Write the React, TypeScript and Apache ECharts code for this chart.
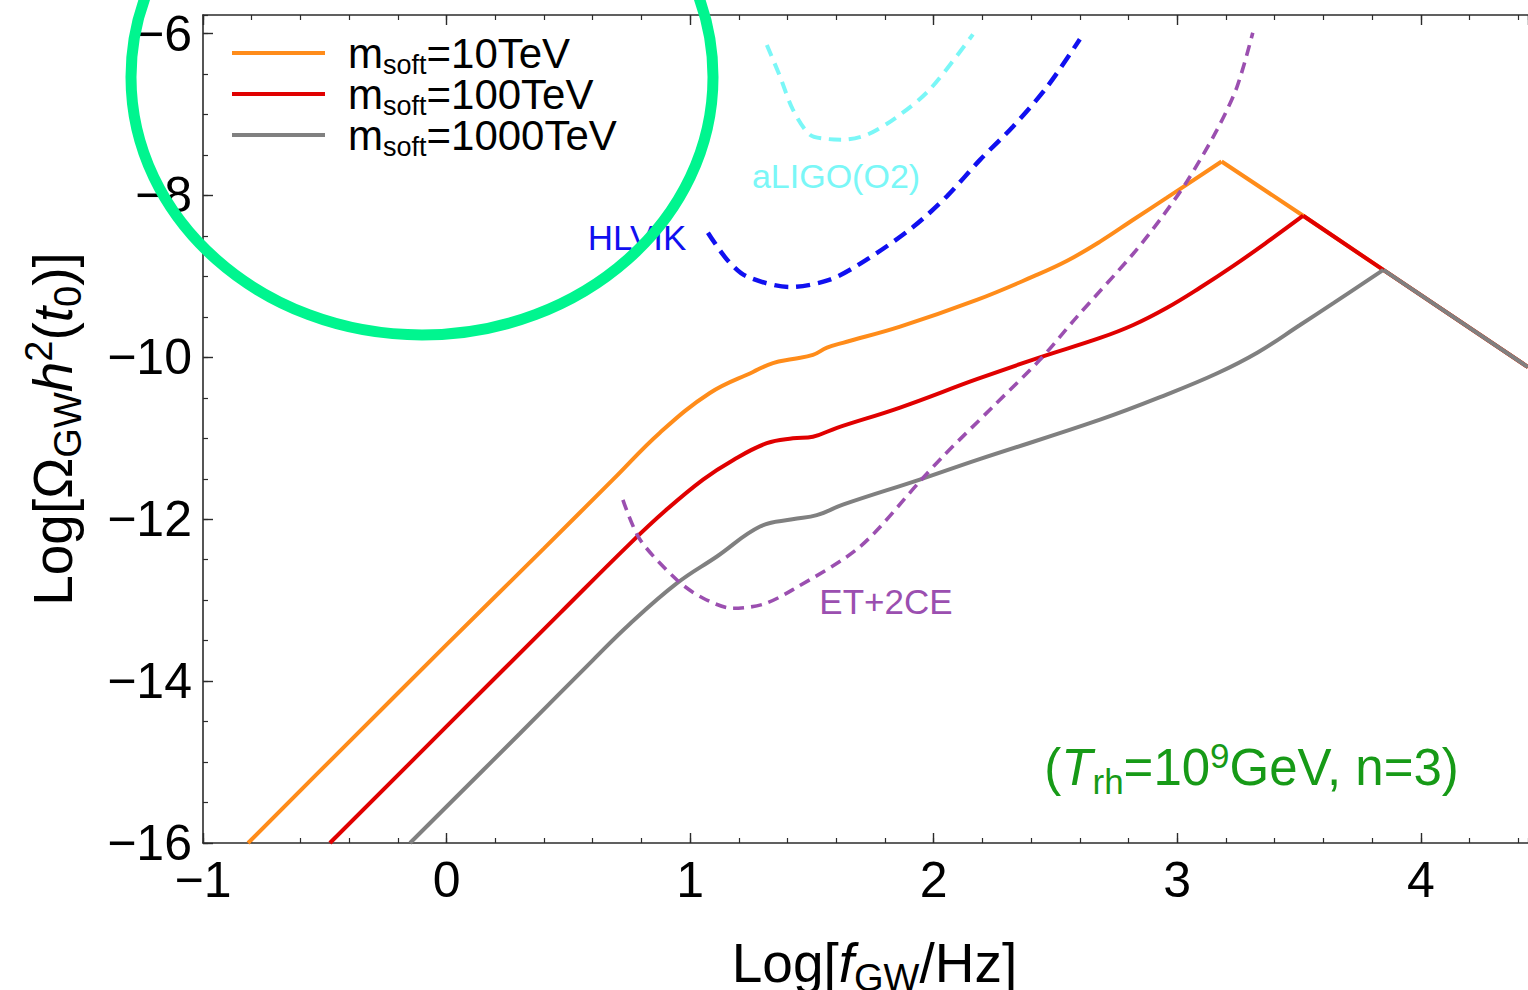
import React, { useEffect, useRef } from 'react';
import * as echarts from 'echarts';

const FONT = '"Liberation Sans", Arial, Helvetica, sans-serif';

// Axis ranges and tick labels
const X_MIN = -1;
const X_MAX = 4.44;
const Y_MIN = -16;
const Y_MAX = -5.77;
const X_TICKS = [-1, 0, 1, 2, 3, 4];
const Y_TICKS = [-16, -14, -12, -10, -8, -6];

// Legend / series names
const MSOFT = ['m_soft=10TeV', 'm_soft=100TeV', 'm_soft=1000TeV'];

// m_soft = 10 TeV (orange)
const orangeRise: [number, number][] = [
  [-0.815, -16], [-0.4, -14.75], [0, -13.55], [0.4, -12.36], [0.683, -11.51],
  [0.876, -10.93], [1.081, -10.44], [1.258, -10.18], [1.34, -10.07], [1.422, -10.02],
  [1.504, -9.97], [1.562, -9.88], [1.627, -9.82], [1.862, -9.62], [2.177, -9.29],
  [2.409, -9.0], [2.546, -8.81], [2.683, -8.57], [2.819, -8.3], [2.956, -8.03],
  [3.182, -7.58],
];
const orangeFall: [number, number][] = [
  [3.182, -7.58], [3.517, -8.25], [3.846, -8.92], [4.44, -10.12],
];

// m_soft = 100 TeV (red)
const redRise: [number, number][] = [
  [-0.479, -16], [0, -14.56], [0.466, -13.16], [0.75, -12.31], [0.9, -11.89],
  [1.053, -11.51], [1.176, -11.27], [1.315, -11.06], [1.422, -11.0], [1.504, -10.98],
  [1.603, -10.87], [1.862, -10.62], [2.177, -10.27], [2.436, -10.0], [2.683, -9.76],
  [2.819, -9.6], [2.956, -9.39], [3.093, -9.14], [3.23, -8.87], [3.367, -8.58],
  [3.517, -8.25],
];
const redFall: [number, number][] = [
  [3.517, -8.25], [3.846, -8.92], [4.44, -10.12],
];

// m_soft = 1000 TeV (gray)
const grayRise: [number, number][] = [
  [-0.15, -16], [0.3, -14.65], [0.601, -13.74], [0.75, -13.3], [0.946, -12.79],
  [1.11, -12.46], [1.287, -12.09], [1.42, -12.0], [1.52, -11.95], [1.627, -11.82],
  [1.943, -11.51], [2.176, -11.27], [2.683, -10.77], [2.956, -10.46], [3.162, -10.2],
  [3.33, -9.94], [3.504, -9.6], [3.641, -9.33], [3.846, -8.92],
];
const grayFall: [number, number][] = [
  [3.846, -8.92], [4.44, -10.12],
];

// Detector sensitivity curves
const aligo: [number, number][] = [
  [1.315, -6.14], [1.369, -6.53], [1.422, -6.94], [1.492, -7.25], [1.56, -7.3],
  [1.627, -7.31], [1.726, -7.25], [1.849, -7.03], [1.984, -6.69], [2.161, -6.01],
];
const hlvik: [number, number][] = [
  [1.073, -8.46], [1.151, -8.79], [1.233, -9.0], [1.41, -9.13], [1.574, -9.04],
  [1.726, -8.79], [1.915, -8.39], [2.054, -8.01], [2.19, -7.56], [2.325, -7.15],
  [2.465, -6.66], [2.6, -6.07],
];
const et2ce: [number, number][] = [
  [0.724, -11.76], [0.794, -12.25], [0.946, -12.75], [1.05, -12.97], [1.176, -13.1],
  [1.3, -13.05], [1.422, -12.87], [1.697, -12.34], [1.95, -11.51], [2.039, -11.22],
  [2.243, -10.61], [2.436, -10.03], [2.588, -9.5], [2.819, -8.72], [2.929, -8.3],
  [3.039, -7.83], [3.163, -7.19], [3.245, -6.66], [3.31, -5.99],
];

// Annotation anchors (data coordinates)
const LABEL_ALIGO: [number, number] = [1.599, -7.755];
const LABEL_HLVIK: [number, number] = [0.782, -8.52];
const LABEL_ET: [number, number] = [1.804, -13.02];
const LABEL_PARAMS: [number, number] = [3.305, -15.07];

const C_ORANGE = '#FF8C1A';
const C_RED = '#E00000';
const C_GRAY = '#808080';
const C_CYAN = '#7AF7F7';
const C_BLUE = '#1010F0';
const C_PURPLE = '#9B4FB0';
const C_GREEN = '#179A17';
const AXIS_C = '#2b2b2b';

const minus = (v: number) => String(v).replace('-', '\u2212');
const onlyTicks = (list: number[]) => (v: number) =>
  list.some((t) => Math.abs(t - v) < 1e-6) ? minus(v) : '';

function makeAxisPair(kind: 'x' | 'y', position: string, withLabels: boolean) {
  const isX = kind === 'x';
  const major: any = {
    type: 'value',
    min: isX ? X_MIN : Y_MIN,
    max: isX ? X_MAX : Y_MAX,
    interval: isX ? 1 : 2,
    position,
    axisLine: { show: true, onZero: false, lineStyle: { color: AXIS_C, width: 1.6 } },
    axisTick: { show: true, inside: true, length: 10, lineStyle: { color: AXIS_C, width: 1.4 } },
    splitLine: { show: false },
    axisLabel: withLabels
      ? {
          show: true,
          formatter: onlyTicks(isX ? X_TICKS : Y_TICKS),
          fontSize: 50,
          color: '#000',
          fontFamily: FONT,
          margin: isX ? 12 : 11,
          showMaxLabel: false,
        }
      : { show: false },
  };
  const minor: any = {
    type: 'value',
    min: isX ? X_MIN : Y_MIN,
    max: isX ? X_MAX : Y_MAX,
    interval: isX ? 0.2 : 0.5,
    position,
    axisLine: { show: false, onZero: false },
    axisTick: { show: true, inside: true, length: 5, lineStyle: { color: AXIS_C, width: 1.2 } },
    splitLine: { show: false },
    axisLabel: { show: false },
  };
  return [major, minor];
}

// Rich text styles: "height" keeps the token boxes small, padding shifts sub/superscripts.
const titleRich = {
  a: { fontSize: 55, lineHeight: 55, height: 55, fontFamily: FONT, color: '#000' },
  i: { fontSize: 55, lineHeight: 55, height: 55, fontFamily: FONT, color: '#000', fontStyle: 'italic' },
  s: { fontSize: 38, lineHeight: 55, height: 10, fontFamily: FONT, color: '#000', padding: [30, 0, 0, 0] },
  p: { fontSize: 38, lineHeight: 55, height: 10, fontFamily: FONT, color: '#000', padding: [0, 0, 28, 0] },
};

export default function App() {
  const ref = useRef<HTMLDivElement>(null);

  useEffect(() => {
    if (!ref.current) return;
    const chart = echarts.init(ref.current, undefined, { renderer: 'svg' });

    const [xMajor, xMinor] = makeAxisPair('x', 'bottom', true);
    const [xTopMajor, xTopMinor] = makeAxisPair('x', 'top', false);
    const [yMajor, yMinor] = makeAxisPair('y', 'left', true);

    xMajor.name = '{a|Log[}{i|f}{s|GW}{a|/Hz]}';
    xMajor.nameLocation = 'middle';
    xMajor.nameGap = 92;
    xMajor.nameTextStyle = { rich: titleRich, fontFamily: FONT, padding: [0, 0, 0, 18] };

    yMajor.name = '{a|Log[\u03A9}{s|GW}{i|h}{p|2}{a|(}{i|t}{s|0}{a|)]}';
    yMajor.nameLocation = 'middle';
    yMajor.nameGap = 123;
    yMajor.nameTextStyle = { rich: titleRich, fontFamily: FONT };

    const curve = (name: string, data: [number, number][], color: string, smooth: number | boolean, z: number) => ({
      type: 'line',
      name,
      data,
      smooth,
      symbol: 'none',
      showSymbol: false,
      clip: true,
      z,
      itemStyle: { color },
      lineStyle: { color, width: 4 },
    });

    const dashed = (name: string, data: [number, number][], color: string, width: number, dash: number[]) => ({
      type: 'line',
      name,
      data,
      smooth: 0.3,
      symbol: 'none',
      showSymbol: false,
      clip: true,
      z: 5,
      itemStyle: { color },
      lineStyle: { color, width, type: dash, cap: 'butt' },
    });

    const legendRich = {
      mf: { fontSize: 42, lineHeight: 30, height: 30, fontFamily: FONT, color: '#000', padding: [0, 0, 0, 18] },
      m: { fontSize: 42, lineHeight: 30, height: 30, fontFamily: FONT, color: '#000' },
      s: { fontSize: 27, lineHeight: 30, height: 6, fontFamily: FONT, color: '#000', padding: [24, 0, 0, 0] },
    };

    const paramsRich = {
      a: { fontSize: 51, lineHeight: 51, height: 51, fontFamily: FONT, color: C_GREEN },
      i: { fontSize: 51, lineHeight: 51, height: 51, fontFamily: FONT, color: C_GREEN, fontStyle: 'italic' },
      s: { fontSize: 35, lineHeight: 51, height: 10, fontFamily: FONT, color: C_GREEN, padding: [28, 0, 0, 0] },
      p: { fontSize: 35, lineHeight: 51, height: 10, fontFamily: FONT, color: C_GREEN, padding: [0, 0, 24, 0] },
    };

    const lab = (value: [number, number], text: string, color: string, size: number) => ({
      value,
      label: { show: true, position: 'inside', formatter: text, color, fontSize: size, fontFamily: FONT, opacity: 1 },
    });

    const option: any = {
      animation: false,
      backgroundColor: '#ffffff',
      grid: { left: 203, right: 0, top: 15, bottom: 147, containLabel: false, outerBoundsMode: 'none' },
      xAxis: [xMajor, xMinor, xTopMajor, xTopMinor],
      yAxis: [yMajor, yMinor],
      legend: {
        data: MSOFT,
        orient: 'vertical',
        left: 232,
        top: 32,
        padding: 0,
        itemGap: -5.5,
        itemWidth: 93,
        itemHeight: 4,
        icon: 'rect',
        selectedMode: false,
        formatter: (name: string) => `{mf|m}{s|soft}{m|=${name.split('=')[1]}}`,
        textStyle: { rich: legendRich, fontFamily: FONT, fontSize: 42, color: '#000' },
      },
      graphic: [
        {
          type: 'ellipse',
          z: 100,
          silent: true,
          shape: { cx: 422, cy: 77, rx: 291, ry: 258 },
          style: { fill: 'none', stroke: '#00F58F', lineWidth: 11 },
        },
      ],
      series: [
        curve(MSOFT[0], orangeRise, C_ORANGE, 0.4, 2),
        curve(MSOFT[0], orangeFall, C_ORANGE, false, 2),
        curve(MSOFT[1], redRise, C_RED, 0.4, 3),
        curve(MSOFT[1], redFall, C_RED, false, 3),
        curve(MSOFT[2], grayRise, C_GRAY, 0.4, 4),
        curve(MSOFT[2], grayFall, C_GRAY, false, 4),
        dashed('aLIGO(O2)', aligo, C_CYAN, 4, [12, 8]),
        dashed('HLVIK', hlvik, C_BLUE, 4.5, [14, 8]),
        dashed('ET+2CE', et2ce, C_PURPLE, 3.6, [11, 7]),
        {
          type: 'scatter',
          name: 'annotations',
          symbol: 'circle',
          symbolSize: 1,
          z: 10,
          silent: true,
          itemStyle: { color: 'rgba(0,0,0,0)', opacity: 1 },
          data: [
            lab(LABEL_ALIGO, 'aLIGO(O2)', C_CYAN, 34),
            lab(LABEL_HLVIK, 'HLVIK', C_BLUE, 35),
            lab(LABEL_ET, 'ET+2CE', C_PURPLE, 35),
            {
              value: LABEL_PARAMS,
              label: {
                show: true,
                position: 'inside',
                opacity: 1,
                formatter: '{a|(}{i|T}{s|rh}{a|=10}{p|9}{a|GeV, n=3)}',
                rich: paramsRich,
                fontFamily: FONT,
              },
            },
          ],
        },
      ],
    };

    chart.setOption(option);
    return () => chart.dispose();
  }, []);

  return (
    <div
      ref={ref}
      style={{ position: 'absolute', left: 0, top: 0, width: 1528, height: 990, background: '#fff' }}
    />
  );
}
